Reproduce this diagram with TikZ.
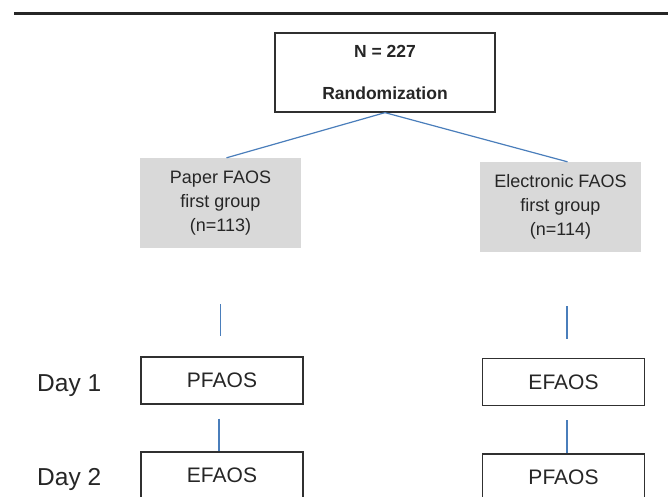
\documentclass[tikz,border=0pt]{standalone}
\usepackage{fontspec}
\setmainfont{Liberation Sans}
\usetikzlibrary{calc}
\definecolor{textgray}{HTML}{262626}
\definecolor{boxgray}{HTML}{303030}
\definecolor{fillgray}{HTML}{D9D9D9}
\definecolor{linkblue}{HTML}{4A7EBB}
\tikzset{
  flowbox/.style={draw=boxgray, line width=1.1pt, minimum width=162pt, minimum height=47pt,
    inner sep=0pt, text=textgray, font=\fontsize{21}{25}\selectfont},
  groupbox/.style={fill=fillgray, minimum width=161pt, minimum height=90pt, inner sep=0pt,
    align=center, text=textgray, font=\fontsize{18}{24}\selectfont},
  daylabel/.style={anchor=base west, inner sep=0pt, text=textgray, font=\fontsize{24.5}{28}\selectfont},
  link/.style={draw=linkblue, line width=1.2pt}
}
\begin{document}
\begin{tikzpicture}[x=1pt, y=-1pt]
\clip (0,0) rectangle (668,496);
\fill[white] (0,0) rectangle (668,496);
\draw[line width=3pt, textgray] (14,13) -- (668,13);
% randomization
\node[draw=boxgray, line width=1.3pt, minimum width=220pt, minimum height=79pt, inner sep=0pt,
  align=center, text=textgray, font=\bfseries\fontsize{17.5}{21}\selectfont]
  (top) at (385,72.5) {N = 227\\[21pt]Randomization};
% the two groups
\node[groupbox] (paper) at (220.5,203) {Paper FAOS\\first group\\(n=113)};
\node[groupbox] (elec) at (560.5,207) {Electronic FAOS\\first group\\(n=114)};
% the two days
\node[flowbox] (lday1) at (222,380.5) {PFAOS};
\node[flowbox] (rday1) at (563.5,382) {EFAOS};
\node[flowbox] (lday2) at (222,475.5) {EFAOS};
\node[flowbox] (rday2) at (563.5,477.5) {PFAOS};
\node[daylabel] (day1) at (37,391) {Day 1};
\node[daylabel] (day2) at (37,485) {Day 2};
\path[link]
(top.south)
edge ([xshift=6pt]paper.north)
edge ([xshift=7pt]elec.north)
(paper.south)
edge[shorten <=56pt, shorten >=20pt] (paper.south |- lday1.north)
([xshift=6.5pt]elec.south)
edge[shorten <=54pt, shorten >=19pt] ([xshift=6.5pt]elec.south |- rday1.north)
([xshift=-3pt]lday1.south)
edge[shorten <=14pt] ([xshift=-3pt]lday1.south |- lday2.north)
([xshift=3.5pt]rday1.south)
edge[shorten <=14pt] ([xshift=3.5pt]rday1.south |- rday2.north)
;
\end{tikzpicture}
\end{document}
